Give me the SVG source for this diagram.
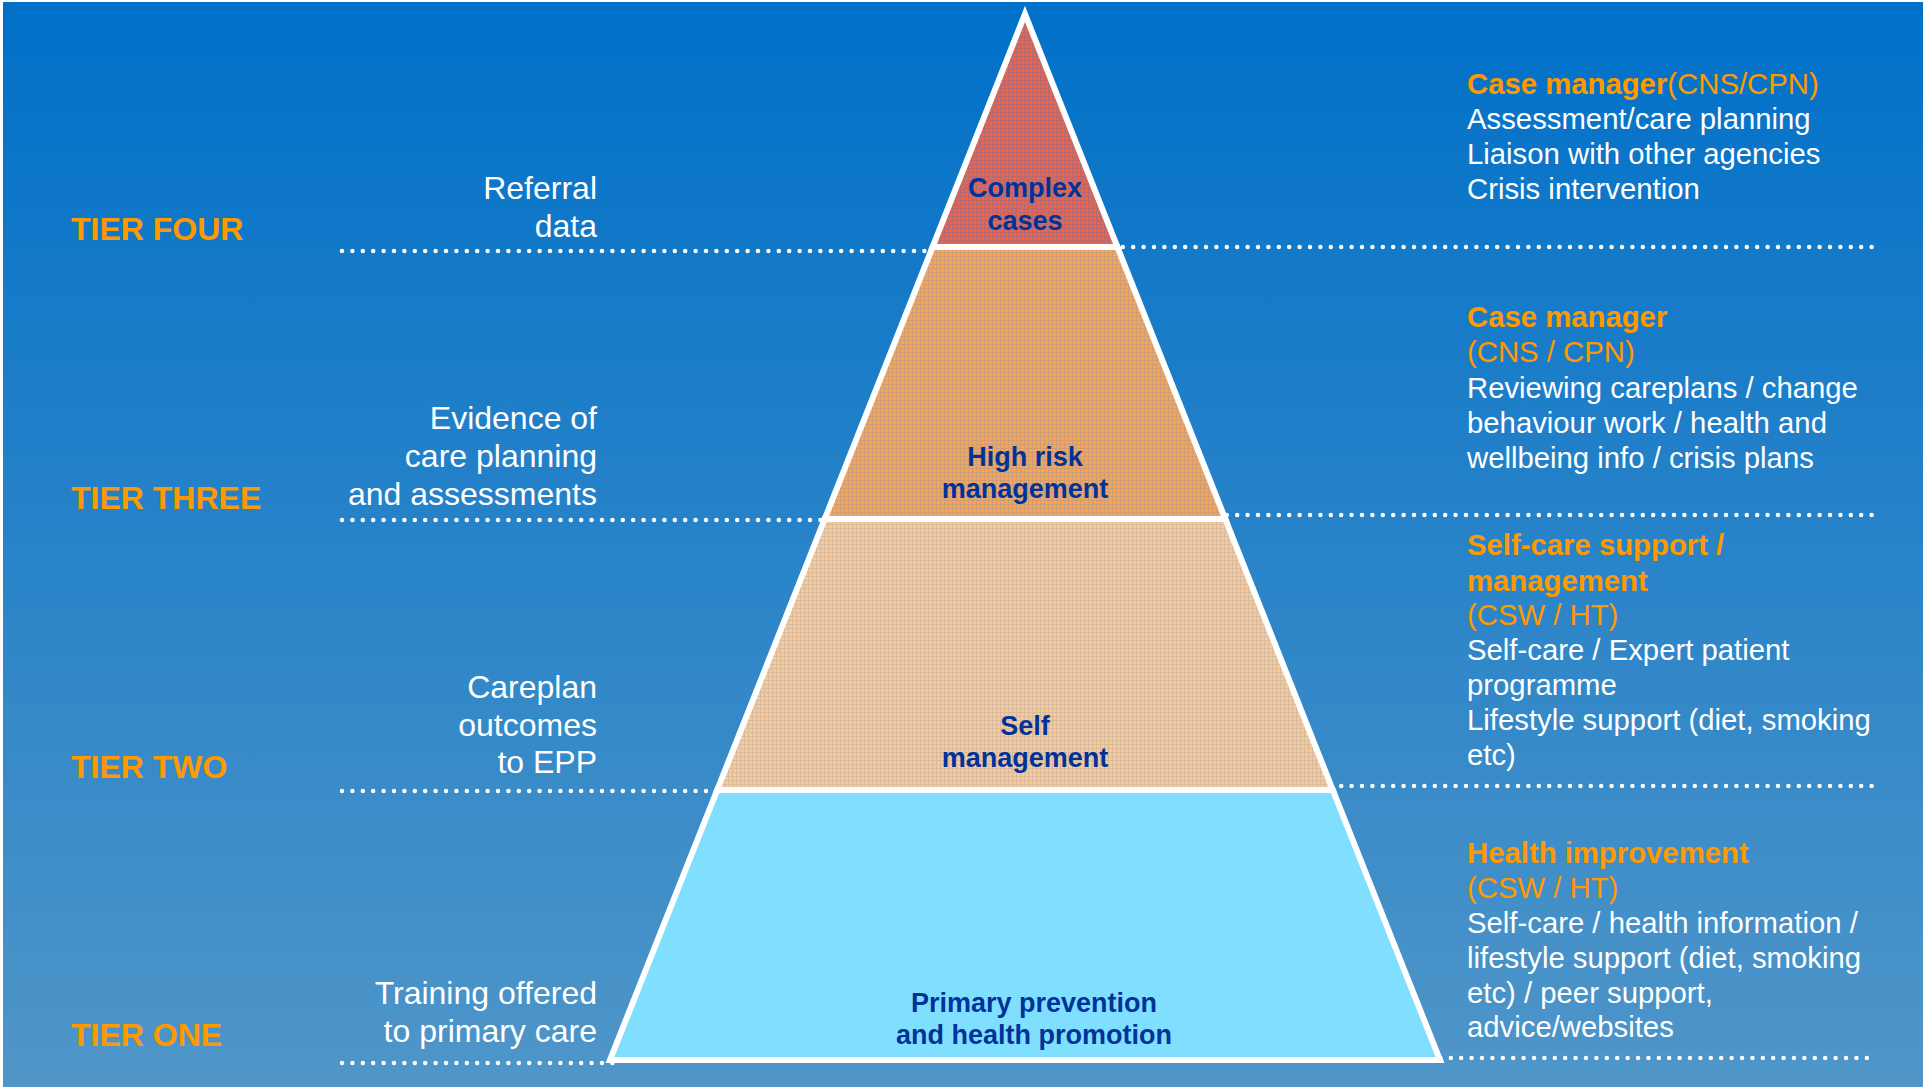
<svg xmlns="http://www.w3.org/2000/svg" width="1923" height="1087" viewBox="0 0 1923 1087">
<defs>
<linearGradient id="bg" x1="0" y1="0" x2="0" y2="1">
<stop offset="0" stop-color="#0070c8"/>
<stop offset="1" stop-color="#5096c8"/>
</linearGradient>
<pattern id="p4" width="4" height="4" patternUnits="userSpaceOnUse">
<rect width="4" height="4" fill="#f85f3c"/>
<path d="M0 0.5H4M0.5 0V4" stroke="#5a78b8" stroke-width="1" opacity="0.4"/>
</pattern>
<pattern id="p3" width="4" height="4" patternUnits="userSpaceOnUse">
<rect width="4" height="4" fill="#ffa24c"/>
<path d="M0 0.5H4M0.5 0V4" stroke="#8898b0" stroke-width="1" opacity="0.4"/>
</pattern>
<pattern id="p2" width="4" height="4" patternUnits="userSpaceOnUse">
<rect width="4" height="4" fill="#ffc88c"/>
<path d="M0 0.5H4M0.5 0V4" stroke="#98a8c0" stroke-width="1" opacity="0.4"/>
</pattern>
</defs>
<style>
.dots{stroke:#ffffff;stroke-width:4.5;stroke-linecap:round;stroke-dasharray:0 10.4;fill:none}
.tier{stroke:#ffffff;stroke-width:6;stroke-linejoin:miter}
.tl{font-family:"Liberation Sans",Arial,sans-serif;font-weight:bold;font-size:32px;fill:#ff9900}
.lt{font-family:"Liberation Sans",Arial,sans-serif;font-size:32px;fill:#ffffff;text-anchor:end}
.rt{font-family:"Liberation Sans",Arial,sans-serif;font-size:29.3px;fill:#ffffff}
.ro{fill:#ff9900}
.rb{font-weight:bold}
.pl{font-family:"Liberation Sans",Arial,sans-serif;font-weight:bold;font-size:27px;fill:#003399;text-anchor:middle}
</style>
<rect width="1923" height="1087" fill="#ffffff"/>
<rect x="3" y="2" width="1920" height="1085" fill="url(#bg)"/>

<g id="connectors">
<path class="dots" d="M342 251H1000"/>
<path class="dots" d="M342 520H1000"/>
<path class="dots" d="M342 791H1000"/>
<path class="dots" d="M342 1063H620"/>
<path class="dots" d="M1050 247H1873"/>
<path class="dots" d="M1050 515H1873"/>
<path class="dots" d="M1050 786H1873"/>
<path class="dots" d="M1430 1058H1868"/>
</g>

<g id="tier1">
<polygon class="tier" points="717.2,790 1332.8,790 1440,1060 610,1060" fill="#80dfff"/>
<text class="pl" x="1034" y="1012">Primary prevention</text>
<text class="pl" x="1034" y="1044">and health promotion</text>
</g>
<g id="tier2">
<polygon class="tier" points="824.7,519 1225.3,519 1332.8,790 717.2,790" fill="url(#p2)"/>
<text class="pl" x="1025" y="735">Self</text>
<text class="pl" x="1025" y="767">management</text>
</g>
<g id="tier3">
<polygon class="tier" points="932.6,247 1117.4,247 1225.3,519 824.7,519" fill="url(#p3)"/>
<text class="pl" x="1025" y="466">High risk</text>
<text class="pl" x="1025" y="498">management</text>
</g>
<g id="tier4">
<polygon class="tier" points="1025,14 1117.4,247 932.6,247" fill="url(#p4)"/>
<text class="pl" x="1025" y="197">Complex</text>
<text class="pl" x="1025" y="230">cases</text>
</g>

<g id="tier-labels">
<text class="tl" x="71" y="240">TIER FOUR</text>
<text class="tl" x="71" y="509">TIER THREE</text>
<text class="tl" x="71" y="778">TIER TWO</text>
<text class="tl" x="71" y="1046">TIER ONE</text>
</g>

<g id="left-texts">
<text class="lt" x="597" y="199">Referral</text>
<text class="lt" x="597" y="237">data</text>
<text class="lt" x="597" y="429">Evidence of </text>
<text class="lt" x="597" y="467">care planning</text>
<text class="lt" x="597" y="505">and assessments</text>
<text class="lt" x="597" y="698">Careplan</text>
<text class="lt" x="597" y="736">outcomes</text>
<text class="lt" x="597" y="773">to EPP</text>
<text class="lt" x="597" y="1004">Training offered</text>
<text class="lt" x="597" y="1042">to primary care</text>
</g>

<g id="right-tier4">
<text class="rt" x="1467" y="94"><tspan class="ro rb">Case manager</tspan><tspan class="ro">(CNS/CPN)</tspan></text>
<text class="rt" x="1467" y="129">Assessment/care planning</text>
<text class="rt" x="1467" y="164">Liaison with other agencies</text>
<text class="rt" x="1467" y="199">Crisis intervention</text>
</g>
<g id="right-tier3">
<text class="rt ro rb" x="1467" y="327">Case manager</text>
<text class="rt ro" x="1467" y="362">(CNS / CPN)</text>
<text class="rt" x="1467" y="398">Reviewing careplans / change</text>
<text class="rt" x="1467" y="433">behaviour work / health and</text>
<text class="rt" x="1467" y="468">wellbeing info / crisis plans</text>
</g>
<g id="right-tier2">
<text class="rt ro rb" x="1467" y="555">Self-care support /</text>
<text class="rt ro rb" x="1467" y="591">management</text>
<text class="rt ro" x="1467" y="625">(CSW / HT)</text>
<text class="rt" x="1467" y="660">Self-care / Expert patient</text>
<text class="rt" x="1467" y="695">programme</text>
<text class="rt" x="1467" y="730">Lifestyle support (diet, smoking</text>
<text class="rt" x="1467" y="765">etc)</text>
</g>
<g id="right-tier1">
<text class="rt ro rb" x="1467" y="863">Health improvement</text>
<text class="rt ro" x="1467" y="898">(CSW / HT)</text>
<text class="rt" x="1467" y="933">Self-care / health information /</text>
<text class="rt" x="1467" y="968">lifestyle support (diet, smoking</text>
<text class="rt" x="1467" y="1003">etc) / peer support,</text>
<text class="rt" x="1467" y="1037">advice/websites</text>
</g>
</svg>
